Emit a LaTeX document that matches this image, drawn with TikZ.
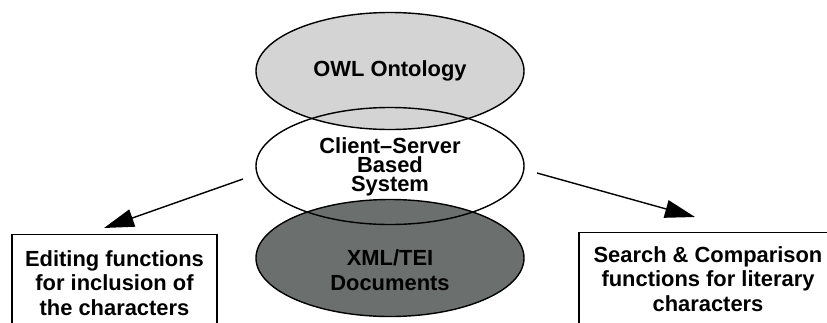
\documentclass[tikz,border=0pt]{standalone}
\usepackage{fontspec}
\setmainfont{Liberation Sans}
\usetikzlibrary{shapes.geometric,arrows.meta}
\definecolor{owlgray}{HTML}{D4D4D4}
\definecolor{teigray}{HTML}{6B706F}
\tikzset{
  layer/.style={ellipse, minimum width=268pt, minimum height=117pt, inner sep=0pt},
  outline/.style={draw=black, line width=1.4pt},
  label/.style={font=\bfseries\fontsize{21.9}{24.5}\selectfont, align=center, inner sep=0pt},
  tight/.style={font=\bfseries\fontsize{21.9}{19}\selectfont, align=center, inner sep=0pt},
  panel/.style={draw=black, line width=1.4pt, rectangle, inner sep=0pt},
  arr/.style={line width=1.4pt, -{Triangle[length=30pt,width=18pt]}}
}
\begin{document}
\begin{tikzpicture}[x=1pt,y=-1pt]
  \useasboundingbox (0,0) rectangle (827,322);
  \clip (0,0) rectangle (827,322);
  % three stacked layers: ontology, system, documents
  \node[layer, fill=white] (sys) at (390,166) {};
  \node[layer, fill=owlgray] (owl) at (390,71) {};
  \node[layer, fill=teigray] (tei) at (390,258) {};
  \node[layer, outline] at (owl) {};
  \node[layer, outline] at (sys) {};
  \node[layer, outline] at (tei) {};
  \node[label] (owltext) at (390,71) {OWL Ontology};
  \node[tight] (systext) at (390,167) {Client--Server\\Based\\System};
  \node[label] (teitext) at (390,270) {XML/TEI\\Documents};
  % side panels
  \node[panel, minimum width=205pt, minimum height=110pt, anchor=north] (editbox) at (114.5,234) {};
  \node[label] (edittext) at (114.5,283) {Editing functions\\for inclusion of\\the characters};
  \node[panel, minimum width=258pt, minimum height=110pt, anchor=north] (searchbox) at (708,232) {};
  \node[label] (searchtext) at (708,279) {Search \& Comparison\\functions for literary\\characters};
  % connectors
  \coordinate (ls) at (243,179);
  \coordinate (lt) at (104,228);
  \coordinate (rs) at (537,173);
  \coordinate (rt) at (695,217);
  \draw[arr] (ls) -- (lt);
  \draw[arr] (rs) -- (rt);
\end{tikzpicture}
\end{document}
